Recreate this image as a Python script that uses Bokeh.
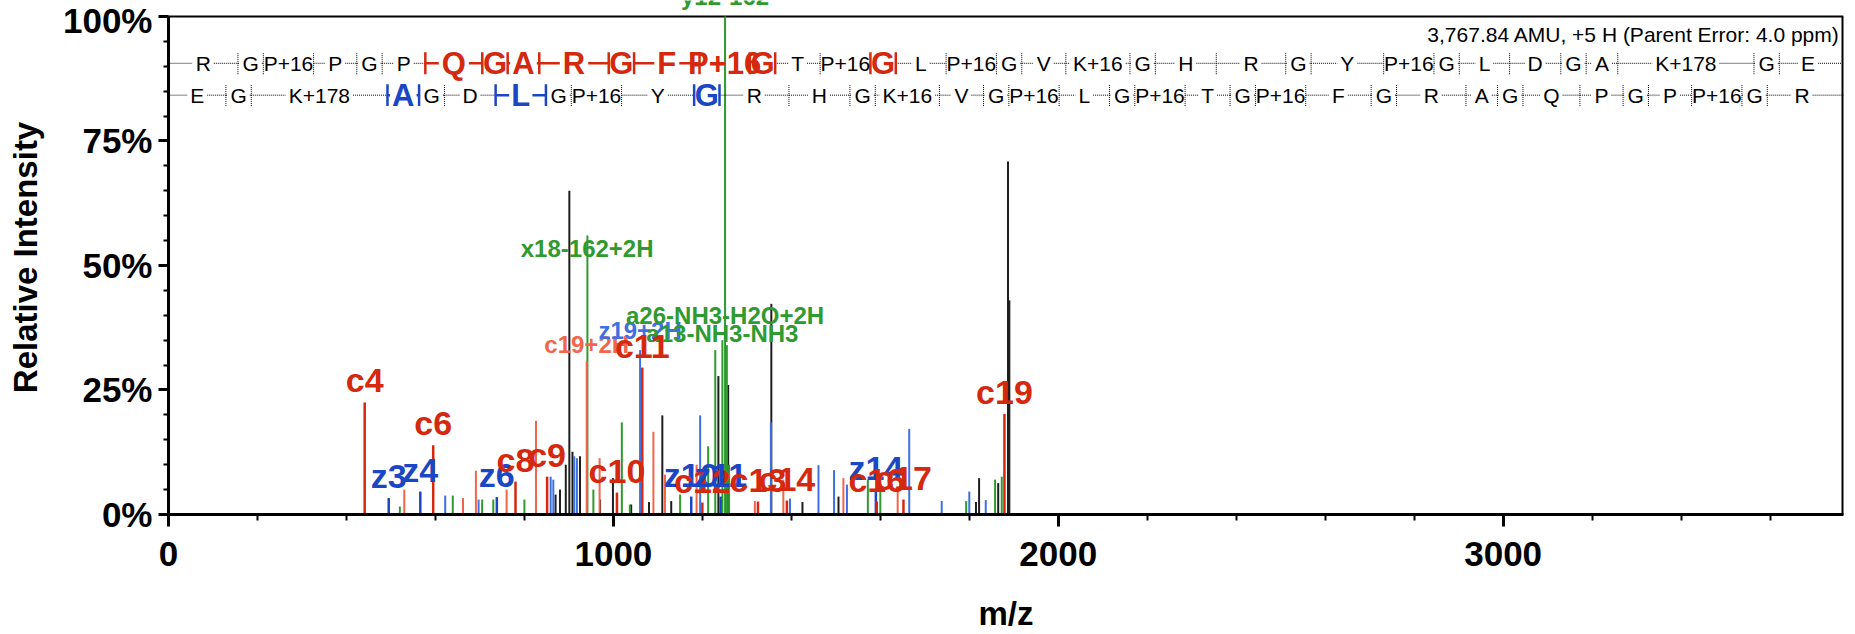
import numpy as np
from bokeh.plotting import figure
from bokeh.models import Range1d, FixedTicker, Label, ColumnDataSource
from bokeh.core.properties import value
from bokeh.embed import file_html
from bokeh.resources import INLINE

# ---------------- data ----------------
X_MAX = 3765
Y_TICKS = [0, 25, 50, 75, 100]
Y_TICK_LABELS = ["0%", "25%", "50%", "75%", "100%"]
X_TICKS = [0, 1000, 2000, 3000]

black_mz = [870, 880, 893, 901, 908, 925, 970, 999, 1040, 1080, 1110, 1130, 1236, 1258, 1355, 1425, 1506, 1815, 1822, 1865, 1887, 1890]
black_int = [4, 5, 10, 65, 12.6, 11.7, 3, 7.3, 2, 2.5, 19.9, 2.7, 27.8, 26, 42.3, 2.5, 3.6, 2.5, 7.3, 6.3, 70.9, 43]

green_mz = [520, 639, 705, 730, 800, 941.6, 955, 1019, 1037, 1150, 1213, 1229, 1245, 1251, 1255, 1260, 1572, 1600, 1793, 1858, 1873]
green_int = [1.6, 3.8, 3, 3, 3, 56, 5, 18.5, 2, 4, 13.7, 33, 35, 100, 34, 10, 7, 6, 2.7, 7, 7.6]

blue_mz = [622, 697, 859, 865, 912, 918, 1060, 1195, 1354, 1397, 1461, 1496, 1525, 1665, 1738, 1800, 1837]
blue_int = [3.8, 3, 7.6, 7, 11.7, 11.3, 33, 19.9, 18.5, 3.2, 9.9, 8.9, 6, 17.2, 2.7, 4.6, 2.9]

salmon_mz = [530, 662, 691, 760, 826, 940, 969, 1090, 1116, 1187, 1318, 1382, 1517, 1639]
salmon_int = [5, 3.3, 8.8, 5, 18.8, 30.8, 11.3, 16.6, 8, 10, 2.7, 7, 7.3, 5]

# labelled c / z ions
ion_label = ["c4", "z3", "z4", "c6", "z6", "c8", "c9", "c10", "c11", "z10", "c12", "z11",
             "c13", "c14", "z14", "c16", "c17", "c19"]
ion_mz = [441, 495, 566, 595, 738, 780, 851, 1008, 1065, 1175, 1200, 1241,
          1325, 1390, 1590, 1592, 1652, 1879]
ion_int = [22.5, 3.3, 4.6, 13.9, 3.5, 6.6, 7.6, 4.4, 29.5, 3.6, 2.4, 3.6,
           2.6, 2.8, 5.0, 2.6, 3.0, 20.2]

# secondary annotations
sec_text = ["c19+2H", "z19+2H", "a26-NH3-H2O+2H", "a13-NH3-NH3", "x18-162+2H"]
sec_mz = [940, 1060, 1251, 1245, 941]
sec_y = [31.5, 34.3, 37.2, 33.7, 50.6]
sec_kind = ["salmon", "blue", "green", "green", "green"]

top_label = "y12-162"
top_label_mz = 1251
top_label_y = 101.3

info_text = "3,767.84 AMU, +5 H (Parent Error: 4.0 ppm)"

sequence = ["R", "G", "P+16", "P", "G", "P", "Q", "G", "A", "R", "G", "F", "P+16", "G", "T",
            "P+16", "G", "L", "P+16", "G", "V", "K+16", "G", "H", "R", "G", "Y", "P+16", "G",
            "L", "D", "G", "A", "K+178", "G", "E"]
residue_mass = {"G": 57.021, "A": 71.037, "P": 97.053, "V": 99.068, "T": 101.048, "L": 113.084,
                "D": 115.027, "Q": 128.059, "E": 129.043, "H": 137.059, "F": 147.068,
                "R": 156.101, "Y": 163.063, "P+16": 113.048, "K+16": 144.090, "K+178": 306.143}
row1_highlight = [6, 7, 8, 9, 10, 11, 12, 13, 16]
row2_highlight = [3, 6, 10]
row1_y = 90.6
row2_y = 84.2
info_y = 96.3

# ---------------- styles ----------------
RED = "#d4280f"
SALMON = "#f2654b"
BLUE_L = "#1b46c4"
BLUE_P = "#3d70e2"
GREEN = "#2f9a2f"
BLACK = "#1e1e1e"
FONT = "Liberation Sans"
kind_color = {"salmon": SALMON, "blue": BLUE_P, "green": GREEN}

L, R, B = 168, 12, 119
TOP_PAD = 16          # pixels between canvas top and the 100% line
W, H = 1855, 634
frame_h = H - B
px_per_pct = (frame_h - TOP_PAD) / 100.0
Y_TOP = frame_h / px_per_pct
px_per_mz = (W - L - R) / X_MAX

p = figure(width=W, height=H, x_range=Range1d(0, X_MAX), y_range=Range1d(0, Y_TOP),
           output_backend="svg", toolbar_location=None,
           min_border_left=L, min_border_right=R, min_border_top=0, min_border_bottom=B)
p.xgrid.visible = False
p.ygrid.visible = False
p.outline_line_color = None
p.background_fill_color = "white"
p.border_fill_color = "white"

# axes
p.xaxis.ticker = FixedTicker(ticks=X_TICKS, minor_ticks=list(range(0, X_MAX, 200)))
p.yaxis.ticker = FixedTicker(ticks=Y_TICKS, minor_ticks=list(range(0, 101, 5)))
p.yaxis.bounds = (0, 100)
p.yaxis.major_label_overrides = {t: l for t, l in zip(Y_TICKS, Y_TICK_LABELS)}
for ax in (p.xaxis[0], p.yaxis[0]):
    ax.axis_line_width = 3
    ax.axis_line_color = "black"
    ax.major_tick_line_width = 3
    ax.minor_tick_line_width = 2
    ax.major_tick_in = 0
    ax.minor_tick_in = 0
    ax.major_label_text_font = FONT
    ax.major_label_text_font_style = "bold"
    ax.major_label_text_font_size = "35px"
    ax.major_label_text_color = "black"
    ax.axis_label_text_font = FONT
    ax.axis_label_text_font_style = "bold"
    ax.axis_label_text_font_size = "33px"
    ax.axis_label_text_color = "black"
p.xaxis.major_tick_out = 12
p.xaxis.minor_tick_out = 6
p.yaxis.major_tick_out = 10
p.yaxis.minor_tick_out = 5
p.xaxis.major_label_standoff = 15
p.yaxis.major_label_standoff = 6
p.xaxis.axis_label = "m/z"
p.yaxis.axis_label = "Relative Intensity"
p.xaxis.axis_label_standoff = 26
p.yaxis.axis_label_standoff = 16

# frame top and right border
p.segment(x0=[0], y0=[100], x1=[X_MAX], y1=[100], line_color="black", line_width=2)
p.segment(x0=[X_MAX], y0=[0], x1=[X_MAX], y1=[100], line_color="black", line_width=4)

# peaks
def sticks(mz, it, color, width=2):
    src = ColumnDataSource(dict(x=mz, y0=[0] * len(mz), y1=it))
    p.segment(x0="x", y0="y0", x1="x", y1="y1", source=src, line_color=color, line_width=width)

sticks(black_mz, black_int, BLACK)
sticks(green_mz, green_int, GREEN)
sticks(blue_mz, blue_int, BLUE_P)
sticks(salmon_mz, salmon_int, SALMON)
ion_colors = [RED if s.startswith("c") else BLUE_L for s in ion_label]
src_ion = ColumnDataSource(dict(x=ion_mz, y0=[0] * len(ion_mz), y1=ion_int, c=ion_colors,
                                t=ion_label, ly=[v + 0.6 for v in ion_int]))
p.segment(x0="x", y0="y0", x1="x", y1="y1", source=src_ion, line_color="c", line_width=2.5)

# secondary labels
src_sec = ColumnDataSource(dict(x=sec_mz, y=sec_y, t=sec_text, c=[kind_color[k] for k in sec_kind]))
p.text(x="x", y="y", text="t", source=src_sec, text_color="c", text_align="center",
       text_baseline="bottom", text_font=value(FONT), text_font_style="bold", text_font_size="24px")

# main ion labels
p.text(x="x", y="ly", text="t", source=src_ion, text_color="c", text_align="center",
       text_baseline="bottom", text_font=value(FONT), text_font_style="bold", text_font_size="34px")

p.text(x=[top_label_mz], y=[top_label_y], text=[top_label], text_align="center", text_baseline="bottom",
       text_color=GREEN, text_font=value(FONT), text_font_style="bold", text_font_size="24px")
p.add_layout(Label(x=X_MAX - 8, y=info_y, text=info_text, text_align="right", text_baseline="middle",
                   text_color="black", text_font=FONT, text_font_size="21px"))

# ---------------- sequence rows ----------------
CW = {"A": .667, "C": .722, "D": .722, "E": .667, "F": .611, "G": .778, "H": .722, "K": .667,
      "L": .556, "P": .667, "Q": .778, "R": .722, "T": .611, "V": .667, "Y": .667, "+": .584}

def text_px(s, fs):
    return sum(CW.get(ch, .556) for ch in s) * fs

def build_row(residues, hl, y, hl_color):
    masses = [residue_mass[r] for r in residues]
    ends = np.cumsum(masses)
    starts = np.concatenate([[0.0], ends[:-1]])
    centers = (starts + ends) / 2
    n = len(residues)
    hl = set(hl)
    norm = dict(x=[], y=[], t=[])
    high = dict(x=[], y=[], t=[])
    dot = dict(x0=[], x1=[], y=[])
    sol = dict(x0=[], x1=[], y=[])
    for i, r in enumerate(residues):
        is_h = i in hl
        fs = 31 if is_h else 21
        half = (text_px(r, fs) / 2 + 3) / px_per_mz
        d = high if is_h else norm
        d["x"].append(centers[i]); d["y"].append(y); d["t"].append(r)
        a = starts[i]
        b = ends[i] if i < n - 1 else X_MAX
        g = sol if is_h else dot
        if centers[i] - half > a:
            g["x0"].append(a); g["x1"].append(centers[i] - half); g["y"].append(y)
        if centers[i] + half < b:
            g["x0"].append(centers[i] + half); g["x1"].append(b); g["y"].append(y)
    vd = dict(x=[], y0=[], y1=[])
    vs = dict(x=[], y0=[], y1=[])
    for k in range(1, n):
        is_h = (k - 1) in hl or k in hl
        v = vs if is_h else vd
        v["x"].append(ends[k - 1]); v["y0"].append(y - 2.2); v["y1"].append(y + 2.2)
    p.segment(x0="x0", y0="y", x1="x1", y1="y", source=ColumnDataSource(dot),
              line_color="black", line_width=1, line_dash="1 1")
    p.segment(x0="x", y0="y0", x1="x", y1="y1", source=ColumnDataSource(vd),
              line_color="black", line_width=1, line_dash="1 1")
    p.segment(x0="x0", y0="y", x1="x1", y1="y", source=ColumnDataSource(sol),
              line_color=hl_color, line_width=2.5)
    p.segment(x0="x", y0="y0", x1="x", y1="y1", source=ColumnDataSource(vs),
              line_color=hl_color, line_width=2.5)
    p.text(x="x", y="y", text="t", source=ColumnDataSource(norm), text_align="center",
           text_baseline="middle", text_font=value(FONT), text_font_size="21px", text_color="black")
    p.text(x="x", y="y", text="t", source=ColumnDataSource(high), text_align="center",
           text_baseline="middle", text_font=value(FONT), text_font_style="bold",
           text_font_size="31px", text_color=hl_color)

build_row(sequence, row1_highlight, row1_y, RED)
build_row(sequence[::-1], row2_highlight, row2_y, BLUE_L)

open("out.html", "w").write(file_html(p, INLINE))
